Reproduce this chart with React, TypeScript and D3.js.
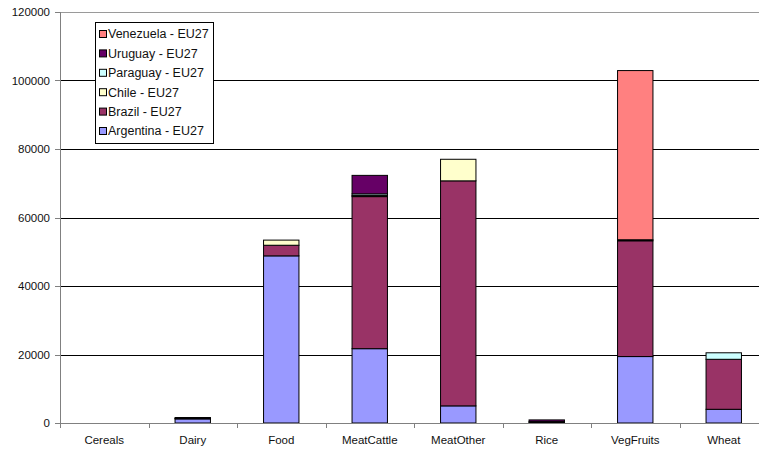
import React from "react";
import * as d3 from "d3";

// Trade volumes by product group, stacked by exporting country
const categories = ["Cereals", "Dairy", "Food", "MeatCattle", "MeatOther", "Rice", "VegFruits", "Wheat"];

const argentina = [0, 1200, 48800, 21700, 5000, 100, 19400, 4000];
const brazil = [0, 100, 3100, 44400, 65700, 300, 33800, 14600];
const chile = [0, 0, 1500, 300, 6300, 0, 0, 0];
const paraguay = [0, 0, 0, 500, 0, 0, 0, 1900];
const uruguay = [0, 300, 0, 5400, 0, 500, 300, 0];
const venezuela = [0, 0, 0, 0, 0, 0, 49400, 0];

const seriesNames = [
  "Argentina - EU27",
  "Brazil - EU27",
  "Chile - EU27",
  "Paraguay - EU27",
  "Uruguay - EU27",
  "Venezuela - EU27",
];
const seriesValues = [argentina, brazil, chile, paraguay, uruguay, venezuela];
const seriesColors = ["#9999FF", "#993366", "#FFFFCC", "#CCFFFF", "#660066", "#FF8080"];

const yTicks = [0, 20000, 40000, 60000, 80000, 100000, 120000];

const W = 759;
const H = 454;
const FONT = "'Liberation Sans', Arial, sans-serif";

export default function App() {
  const left = 60;
  const right = 768;
  const top = 12;
  const bottom = 423;

  const x = d3
    .scaleBand<string>()
    .domain(categories)
    .range([left, right])
    .paddingInner(0.6)
    .paddingOuter(0.3);
  const step = x.step();
  const y = d3.scaleLinear().domain([0, 120000]).range([bottom, top]);

  const rows = categories.map((c, i) => {
    const row: Record<string, number | string> = { category: c };
    seriesNames.forEach((s, j) => (row[s] = seriesValues[j][i]));
    return row;
  });
  const stacked = d3.stack<Record<string, number | string>>().keys(seriesNames)(rows as any);

  const legendX = 95;
  const legendY = 22;
  const legendW = 118;
  const legendH = 121;
  const legendOrder = [...seriesNames.keys()].reverse();

  return (
    <svg
      width={W}
      height={H}
      style={{ position: "absolute", left: 0, top: 0, background: "#fff" }}
      fontFamily={FONT}
    >
      {/* gridlines */}
      {yTicks.slice(1).map((t) => (
        <line
          key={t}
          x1={left}
          x2={W}
          y1={Math.round(y(t)) + 0.5}
          y2={Math.round(y(t)) + 0.5}
          stroke={t === 120000 ? "#9a9a9a" : "#000"}
          strokeWidth={1}
        />
      ))}

      {/* stacked bars */}
      {stacked.map((layer, j) =>
        layer.map((d, i) => {
          const h = y(d[0]) - y(d[1]);
          if (h <= 0) return null;
          return (
            <rect
              key={`${j}-${i}`}
              x={x(categories[i])!}
              y={y(d[1])}
              width={x.bandwidth()}
              height={h}
              fill={seriesColors[j]}
              stroke="#000"
              strokeWidth={1}
            />
          );
        })
      )}

      {/* y axis */}
      <line x1={left + 0.5} x2={left + 0.5} y1={top} y2={bottom} stroke="#808080" />
      {yTicks.map((t) => (
        <g key={t}>
          <line
            x1={left - 5}
            x2={left}
            y1={Math.round(y(t)) + 0.5}
            y2={Math.round(y(t)) + 0.5}
            stroke="#808080"
          />
          <text
            x={50}
            y={y(t)}
            dy="0.35em"
            textAnchor="end"
            fontSize={11.5}
            fill="#111"
          >
            {t}
          </text>
        </g>
      ))}

      {/* x axis */}
      <line x1={left} x2={W} y1={bottom + 0.5} y2={bottom + 0.5} stroke="#808080" />
      {d3.range(categories.length + 1).map((k) => (
        <line
          key={k}
          x1={Math.round(left + k * step) + 0.5}
          x2={Math.round(left + k * step) + 0.5}
          y1={bottom}
          y2={bottom + 5}
          stroke="#808080"
        />
      ))}
      {categories.map((c) => (
        <text
          key={c}
          x={x(c)! + x.bandwidth() / 2}
          y={bottom + 21}
          textAnchor="middle"
          fontSize={11.5}
          fill="#111"
        >
          {c}
        </text>
      ))}

      {/* legend */}
      <rect
        x={legendX + 0.5}
        y={legendY + 0.5}
        width={legendW}
        height={legendH}
        fill="#fff"
        stroke="#000"
      />
      {legendOrder.map((j, r) => {
        const cy = legendY + 12 + r * 19.4;
        return (
          <g key={j}>
            <rect
              x={legendX + 4.5}
              y={cy - 3.5}
              width={7}
              height={7}
              fill={seriesColors[j]}
              stroke="#000"
              strokeWidth={1}
            />
            <text x={legendX + 13} y={cy} dy="0.35em" fontSize={12.5} fill="#111">
              {seriesNames[j]}
            </text>
          </g>
        );
      })}
    </svg>
  );
}
